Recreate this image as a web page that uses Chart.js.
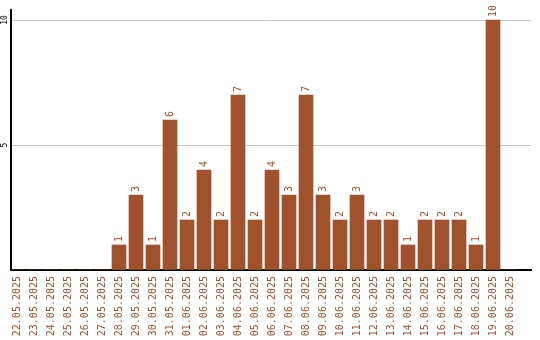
<!DOCTYPE html>
<html><head><meta charset="utf-8">
<script src="https://cdn.jsdelivr.net/npm/chart.js@4/dist/chart.umd.min.js"></script>
<style>html,body{margin:0;padding:0;background:#fff}canvas{display:block}</style>
</head><body>
<canvas id="c" width="540" height="340"></canvas>
<script>
const categories = ['22.05.2025','23.05.2025','24.05.2025','25.05.2025','26.05.2025','27.05.2025','28.05.2025','29.05.2025','30.05.2025','31.05.2025','01.06.2025','02.06.2025','03.06.2025','04.06.2025','05.06.2025','06.06.2025','07.06.2025','08.06.2025','09.06.2025','10.06.2025','11.06.2025','12.06.2025','13.06.2025','14.06.2025','15.06.2025','16.06.2025','17.06.2025','18.06.2025','19.06.2025','20.06.2025'];
const values = [0,0,0,0,0,0,1,3,1,6,2,4,2,7,2,4,3,7,3,2,3,2,2,1,2,2,2,1,10,0];
const yTicks = [5,10];

const BROWN = '#a0522d';
const MONO = '"DejaVu Sans Mono", "Liberation Mono", monospace';

const valueLabels = {
  id: 'valueLabels',
  afterDatasetsDraw(chart) {
    const ctx = chart.ctx;
    const meta = chart.getDatasetMeta(0);
    ctx.save();
    ctx.fillStyle = BROWN;
    ctx.font = '10px ' + MONO;
    ctx.textAlign = 'left';
    ctx.textBaseline = 'middle';
    meta.data.forEach((bar, i) => {
      const v = values[i];
      if (!v) return;
      ctx.save();
      ctx.translate(bar.x, bar.y - 3);
      ctx.rotate(-Math.PI / 2);
      ctx.fillText(String(v), 0, 0);
      ctx.restore();
    });
    ctx.restore();
  }
};

new Chart(document.getElementById('c'), {
  type: 'bar',
  data: {
    datasets: [{
      data: values.map((v, i) => ({x: i, y: v})),
      backgroundColor: BROWN,
      borderWidth: 0,
      barThickness: 14
    }]
  },
  options: {
    responsive: false,
    animation: false,
    devicePixelRatio: 1,
    layout: {padding: {top: 10, right: 9, left: 0, bottom: 0}},
    plugins: {legend: {display: false}, tooltip: {enabled: false}},
    scales: {
      x: {
        type: 'linear',
        offset: false,
        min: -0.353,
        max: 30.235,
        afterBuildTicks: s => { s.ticks = categories.map((_, i) => ({value: i})); },
        afterFit: s => { s.height = 70; s.paddingLeft = 0; s.paddingRight = 0; },
        grid: {display: false, drawTicks: false, offset: false},
        border: {display: true, color: '#000', width: 2},
        ticks: {
          autoSkip: false,
          minRotation: 90, maxRotation: 90,
          padding: 6,
          color: BROWN,
          font: {family: MONO, size: 10},
          callback: v => categories[v] || ''
        }
      },
      y: {
        min: 0,
        max: 10.4,
        afterBuildTicks: s => { s.ticks = [{value: 0}].concat(yTicks.map(v => ({value: v}))); },
        afterFit: s => { s.width = 11; s.paddingTop = 0; s.paddingBottom = 0; },
        grid: {
          drawTicks: false,
          color: ctx => (ctx.tick && ctx.tick.value === 0) ? 'rgba(0,0,0,0)' : '#c8c8c8',
          lineWidth: 1
        },
        border: {display: true, color: '#000', width: 2},
        ticks: {
          minRotation: 90, maxRotation: 90,
          crossAlign: 'center',
          padding: 1,
          color: '#000',
          font: {family: MONO, size: 8},
          callback: v => yTicks.includes(v) ? String(v) : ''
        }
      }
    }
  },
  plugins: [valueLabels]
});
</script>
</body></html>
